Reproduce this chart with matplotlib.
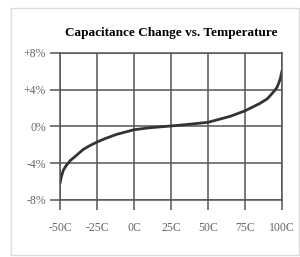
# Capacitance change vs temperature curve
import matplotlib.pyplot as plt
from matplotlib.patches import Rectangle

temps = [-50, -49, -47.7, -46, -43, -40, -34.3, -30, -25, -20, -11.7, 0, 10, 25, 35,
         50, 65, 75, 85, 90, 92, 95, 96.6, 98, 99, 100]
change = [-6.2, -5.4, -4.75, -4.3, -3.7, -3.3, -2.5, -2.1, -1.7, -1.35, -0.86, -0.36, -0.15,
          0.05, 0.2, 0.45, 1.1, 1.7, 2.5, 3.0, 3.35, 3.9, 4.25, 4.8, 5.3, 6.05]

xticks = [-50, -25, 0, 25, 50, 75, 100]
xlabels = ["-50C", "-25C", "0C", "25C", "50C", "75C", "100C"]
yticks = [-8, -4, 0, 4, 8]
ylabels = ["-8%", "-4%", "0%", "+4%", "+8%"]

plt.rcParams["font.family"] = "Liberation Serif"

fig = plt.figure(figsize=(3.0, 2.57), dpi=100)
fig.patches.append(Rectangle((0.037, 0.008), 0.96, 0.96, transform=fig.transFigure,
                             fill=False, edgecolor="#dddddd", linewidth=1))

ax = fig.add_axes([0.2, 0.222, 0.74, 0.572])
ax.plot(temps, change, color="#333333", linewidth=2, solid_capstyle="round", solid_joinstyle="round")

ax.set_xlim(-50, 100)
ax.set_ylim(-8, 8)
ax.set_xticks(xticks)
ax.set_xticklabels(xlabels)
ax.set_yticks(yticks)
ax.set_yticklabels(ylabels)
ax.grid(True, color="#555555", linewidth=1.1)
for s in ax.spines.values():
    s.set_color("#555555")
    s.set_linewidth(1.1)
ax.tick_params(length=7, width=1.1, color="#555555", labelsize=8.5, labelcolor="#666666")
ax.tick_params(axis="x", pad=9)
ax.tick_params(axis="y", pad=3)

ax.set_title("Capacitance Change vs. Temperature", fontsize=9.5, fontweight="bold", pad=12)

plt.savefig("out.png", dpi=100)
